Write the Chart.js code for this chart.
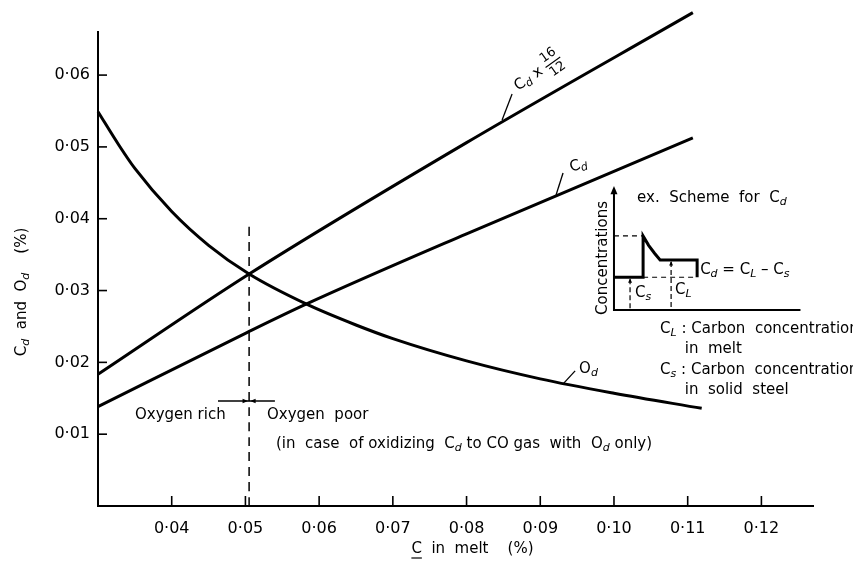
<!DOCTYPE html>
<html><head><meta charset="utf-8">
<script src="https://cdn.jsdelivr.net/npm/chart.js@4/dist/chart.umd.min.js"></script>
<style>html,body{margin:0;padding:0;background:#fff;}#wrap{width:853px;height:571px;position:relative}</style>
</head><body><div id="wrap"><canvas id="c" width="853" height="571"></canvas></div>
<script>
// ---- tick labels / axes ----
const xTicks = [0.04, 0.05, 0.06, 0.07, 0.08, 0.09, 0.10, 0.11, 0.12];
const yTicks = [0.01, 0.02, 0.03, 0.04, 0.05, 0.06];
// ---- series ----
const cdX   = [0.030, 0.0502, 0.0583, 0.080, 0.1107];
const cdY   = [0.01383, 0.02414, 0.02813, 0.0379, 0.05125];
const cd43X = [0.030, 0.0505, 0.080, 0.1107];
const cd43Y = [0.01834, 0.0323, 0.0506, 0.0687];
const odX   = [0.030, 0.0328, 0.035, 0.040, 0.045, 0.0505, 0.0583, 0.065, 0.070, 0.080, 0.090, 0.100, 0.1119];
const odY   = [0.0549, 0.0503, 0.0470, 0.0410, 0.0363, 0.0323, 0.0281, 0.0252, 0.0233, 0.0202, 0.0177, 0.0157, 0.0136];
// boundary between oxygen rich / poor
const boundaryX = [0.0505, 0.0505];
const boundaryY = [0.0, 0.0395];
// inset scheme (drawn in the main axes' units)
const insetAxisX = [0.1000, 0.1000, 0.1253];
const insetAxisY = [0.0440, 0.0273, 0.0273];
const profileX = [0.1000, 0.10395, 0.10395, 0.1047, 0.1055, 0.10626, 0.11128, 0.11128];
const profileY = [0.03185, 0.03185, 0.0376, 0.0363, 0.0352, 0.03426, 0.03426, 0.03185];

const pts = (xs, ys) => xs.map((x, i) => ({x, y: ys[i]}));
const fmt = v => '0\u00B7' + String(Math.round(v * 100)).padStart(2, '0');
const FONT = '"DejaVu Sans", sans-serif';

function segs(str){ // "C_d" -> subscript d
  const out = [];
  for (let i = 0; i < str.length; i++){
    if (str[i] === '_' && i + 1 < str.length){ out.push({t: str[i+1], sub: true}); i++; }
    else { if (out.length && !out[out.length-1].sub) out[out.length-1].t += str[i]; else out.push({t: str[i], sub: false}); }
  }
  return out;
}
function drawRich(ctx, str, x, y, size, align){
  const fM = size + 'px ' + FONT, fS = 'italic ' + Math.round(size * 0.72) + 'px ' + FONT;
  const sg = segs(str); let w = 0;
  sg.forEach(s => { ctx.font = s.sub ? fS : fM; s.w = ctx.measureText(s.t).width; w += s.w; });
  let cx = align === 'center' ? x - w / 2 : align === 'right' ? x - w : x;
  ctx.textAlign = 'left'; ctx.textBaseline = 'middle';
  sg.forEach(s => { ctx.font = s.sub ? fS : fM; ctx.fillText(s.t, cx, y + (s.sub ? size * 0.25 : 0)); cx += s.w; });
  return w;
}
function line(ctx, x1, y1, x2, y2, w, dash){
  ctx.save(); ctx.lineWidth = w; ctx.setLineDash(dash || []); ctx.beginPath(); ctx.moveTo(x1, y1); ctx.lineTo(x2, y2); ctx.stroke(); ctx.restore();
}
function arrowHead(ctx, x, y, ang, len){
  ctx.beginPath();
  ctx.moveTo(x, y);
  ctx.lineTo(x - len * Math.cos(ang - 0.4), y - len * Math.sin(ang - 0.4));
  ctx.lineTo(x - len * Math.cos(ang + 0.4), y - len * Math.sin(ang + 0.4));
  ctx.closePath(); ctx.fill();
}

const annot = {
  id: 'annot',
  afterDraw(chart){
    const ctx = chart.ctx, sx = chart.scales.x, sy = chart.scales.y, a = chart.chartArea;
    const P = (x, y) => [sx.getPixelForValue(x), sy.getPixelForValue(y)];
    const FS = 15;
    ctx.save(); ctx.strokeStyle = '#000'; ctx.fillStyle = '#000';
    // inward tick marks
    xTicks.forEach(v => { const p = sx.getPixelForValue(v); line(ctx, p, a.bottom, p, a.bottom - 10, 1.6); });
    yTicks.forEach(v => { const p = sy.getPixelForValue(v); line(ctx, a.left, p, a.left + 9, p, 1.6); });
    // axis titles
    ctx.save(); ctx.translate(22, 292); ctx.rotate(-Math.PI / 2);
    drawRich(ctx, 'C_d  and  O_d    (%)', 0, 0, FS, 'center'); ctx.restore();
    const tx = sx.getPixelForValue(0.0808), ty = 549;
    ctx.font = FS + 'px ' + FONT; ctx.textBaseline = 'middle'; ctx.textAlign = 'left';
    const full = 'C  in  melt    (%)'; const fw = ctx.measureText(full).width;
    ctx.fillText(full, tx - fw / 2, ty);
    const cw = ctx.measureText('C').width; line(ctx, tx - fw / 2, ty + 9, tx - fw / 2 + cw, ty + 9, 1.2);

    // curve labels with leaders
    let [px, py] = P(0.08482, 0.05376);
    line(ctx, px, py, px + 10, py - 26, 1.3);
    ctx.save(); ctx.translate(px + 14, py - 32); ctx.rotate(-0.62);
    let w = drawRich(ctx, 'C_d x ', 0, 0, FS, 'left');
    ctx.font = '13px ' + FONT; ctx.textAlign = 'center'; ctx.textBaseline = 'middle';
    ctx.fillText('16', w + 9, -8); ctx.fillText('12', w + 9, 9); line(ctx, w, 0.5, w + 18, 0.5, 1.1);
    ctx.restore();

    [px, py] = P(0.09214, 0.04331);
    line(ctx, px, py, px + 7, py - 22, 1.3);
    ctx.save(); ctx.translate(px + 14, py - 27); ctx.rotate(-0.3); drawRich(ctx, 'C_d', 0, 0, FS, 'left'); ctx.restore();

    [px, py] = P(0.0931, 0.0170);
    line(ctx, px, py, px + 12, py - 13, 1.3);
    drawRich(ctx, 'O_d', px + 16, py - 15, FS, 'left');

    // oxygen rich / poor marker
    let [bx, by] = P(0.0505, 0.01462);
    let [lx] = P(0.04628, 0); let [rx] = P(0.0540, 0);
    line(ctx, lx, by, rx, by, 1.3);
    arrowHead(ctx, bx - 1, by, 0, 6); arrowHead(ctx, bx + 1, by, Math.PI, 6);
    let p1 = P(0.03502, 0.01267); drawRich(ctx, 'Oxygen rich', p1[0], p1[1], FS, 'left');
    p1 = P(0.05293, 0.01267); drawRich(ctx, 'Oxygen  poor', p1[0], p1[1], FS, 'left');
    p1 = P(0.05415, 0.00864); drawRich(ctx, '(in  case  of oxidizing  C_d to CO gas  with  O_d only)', p1[0], p1[1], FS, 'left');

    // inset details
    const [ix0, iyTop] = P(0.1000, 0.0440);
    arrowHead(ctx, ix0, iyTop - 4, -Math.PI / 2, 9);
    let [sxp, upY] = P(0.10395, 0.0376);
    line(ctx, ix0, upY, sxp, upY, 1.2, [5, 4]);
    let [, csY] = P(0, 0.03185); let [bxR, clY] = P(0.11128, 0.03426);
    line(ctx, sxp, csY, bxR, csY, 1.2, [5, 4]);
    let [, baseY] = P(0, 0.0273);
    let [csX] = P(0.10218, 0); let [clX] = P(0.10775, 0);
    line(ctx, csX, csY + 2, csX, baseY, 1.2, [5, 3]);
    arrowHead(ctx, csX, csY + 1, -Math.PI / 2, 5);
    line(ctx, clX, clY + 2, clX, baseY, 1.2, [5, 3]);
    arrowHead(ctx, clX, clY + 1, -Math.PI / 2, 5);
    drawRich(ctx, 'C_s', csX + 5, sy.getPixelForValue(0.02967), FS, 'left');
    drawRich(ctx, 'C_L', clX + 4, sy.getPixelForValue(0.03008), FS, 'left');
    drawRich(ctx, 'C_d = C_L \u2013 C_s', bxR + 3, sy.getPixelForValue(0.03287), FS, 'left');
    p1 = P(0.10313, 0.0429); drawRich(ctx, 'ex.  Scheme  for  C_d', p1[0], p1[1], FS, 'left');
    p1 = P(0.09852, 0.03454);
    ctx.save(); ctx.translate(p1[0], p1[1]); ctx.rotate(-Math.PI / 2); drawRich(ctx, 'Concentrations', 0, 0, FS, 'center'); ctx.restore();
    const capX = sx.getPixelForValue(0.10626), subX = sx.getPixelForValue(0.1096);
    drawRich(ctx, 'C_L : Carbon  concentration', capX, 329, FS, 'left');
    drawRich(ctx, 'in  melt', subX, 349, FS, 'left');
    drawRich(ctx, 'C_s : Carbon  concentration', capX, 370, FS, 'left');
    drawRich(ctx, 'in  solid  steel', subX, 390, FS, 'left');
    ctx.restore();
  }
};

const ds = (data, w, extra) => Object.assign({data, showLine: true, borderColor: '#000', backgroundColor: '#000', borderWidth: w, pointRadius: 0, fill: false, clip: false, cubicInterpolationMode: 'monotone'}, extra || {});

new Chart(document.getElementById('c'), {
  type: 'scatter',
  data: {datasets: [
    ds(pts(cd43X, cd43Y), 3),
    ds(pts(cdX, cdY), 3),
    ds(pts(odX, odY), 3),
    ds(pts(boundaryX, boundaryY), 1.5, {borderDash: [9, 6]}),
    ds(pts(insetAxisX, insetAxisY), 2, {cubicInterpolationMode: 'default', tension: 0}),
    ds(pts(profileX, profileY), 3, {cubicInterpolationMode: 'default', tension: 0})
  ]},
  options: {
    responsive: false, animation: false, devicePixelRatio: 1,
    layout: {padding: {left: 0, right: 40, top: 32, bottom: 0}},
    plugins: {legend: {display: false}, tooltip: {enabled: false}},
    scales: {
      x: {type: 'linear', min: 0.03, max: 0.127,
        afterBuildTicks: s => { s.ticks = xTicks.map(v => ({value: v})); },
        afterFit: s => { s.height = 65; },
        ticks: {callback: v => fmt(v), color: '#000', font: {family: FONT, size: 16}, padding: 13, maxRotation: 0, autoSkip: false},
        grid: {display: false, drawTicks: false},
        border: {display: true, color: '#000', width: 2}},
      y: {type: 'linear', min: 0, max: 0.066,
        afterBuildTicks: s => { s.ticks = yTicks.map(v => ({value: v})); },
        afterFit: s => { s.width = 98; },
        ticks: {callback: v => fmt(v), color: '#000', font: {family: FONT, size: 16}, padding: 8, autoSkip: false},
        grid: {display: false, drawTicks: false},
        border: {display: true, color: '#000', width: 2}}
    }
  },
  plugins: [annot]
});
</script></body></html>
